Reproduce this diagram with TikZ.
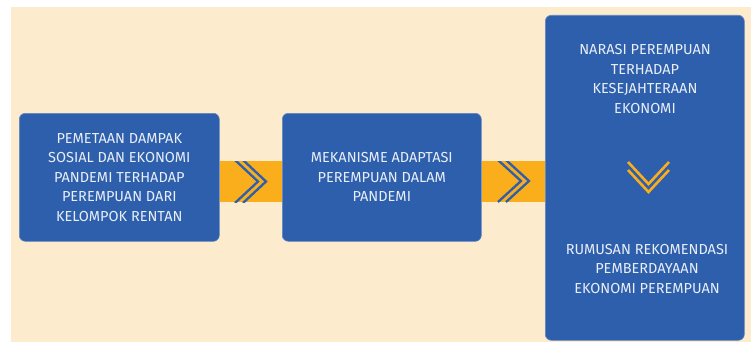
\documentclass[tikz,border=0pt]{standalone}
\usepackage{fontspec}
\setmainfont{Fira Sans}
\definecolor{bg}{HTML}{FDEBCD}
\definecolor{boxblue}{HTML}{2D5FAC}
\definecolor{band}{HTML}{FBAE1C}
\definecolor{txt}{HTML}{E9EEF7}
\begin{document}
\begin{tikzpicture}[x=1pt,y=-1pt,
  box/.style={fill=boxblue, draw=boxblue!75!white, line width=0.6pt, rounded corners=6pt, inner sep=0pt, anchor=north west},
  lbl/.style={text=txt, font=\fontsize{14.5}{19.5}\selectfont, align=center, inner sep=0pt},
  bandfill/.style={fill=band},
  bchev/.style={draw=boxblue, line width=2.3pt, miter limit=10},
  ychev/.style={draw=band, line width=2.6pt, miter limit=10}]
\useasboundingbox (0,0) rectangle (751,342);
\fill[bg] (11,7) rectangle (751,342);
% boxes
\node[box, minimum width=200pt, minimum height=128pt] (b1) at (19,113) {};
\node[box, minimum width=199pt, minimum height=128pt] (b2) at (282,113) {};
\node[box, minimum width=199pt, minimum height=325pt] (b3) at (545,15) {};
% bands (connectors)
\fill[band] (b1.east |- 0,161) rectangle (b2.west |- 0,202);
\fill[band] (b2.east |- 0,161) rectangle (b3.west |- 0,202);
% labels
\node[lbl] (t1) at (b1.center) {PEMETAAN DAMPAK\\SOSIAL DAN EKONOMI\\PANDEMI TERHADAP\\PEREMPUAN DARI\\KELOMPOK RENTAN};
\node[lbl] (t2) at (b2.center) {MEKANISME ADAPTASI\\PEREMPUAN DALAM\\PANDEMI};
\node[lbl] (t3) at (645,79) {NARASI PEREMPUAN\\TERHADAP\\KESEJAHTERAAN\\EKONOMI};
\node[lbl] (t4) at (647,269) {RUMUSAN REKOMENDASI\\PEMBERDAYAAN\\EKONOMI PEREMPUAN};
% chevrons
\begin{scope}
\clip (219,161) rectangle (282,202);
\draw[bchev] (235,160) -- (258,181.5) -- (235,203);
\draw[bchev] (243,160) -- (266,181.5) -- (243,203);
\end{scope}
\begin{scope}
\clip (481,161) rectangle (545,202);
\draw[bchev] (498,160) -- (521,181) -- (498,202);
\draw[bchev] (506,160) -- (529,181) -- (506,202);
\end{scope}
\draw[ychev] (628,162) -- (648.5,184) -- (669,162);
\draw[ychev] (628,170) -- (648.5,192) -- (669,170);
\end{tikzpicture}
\end{document}
